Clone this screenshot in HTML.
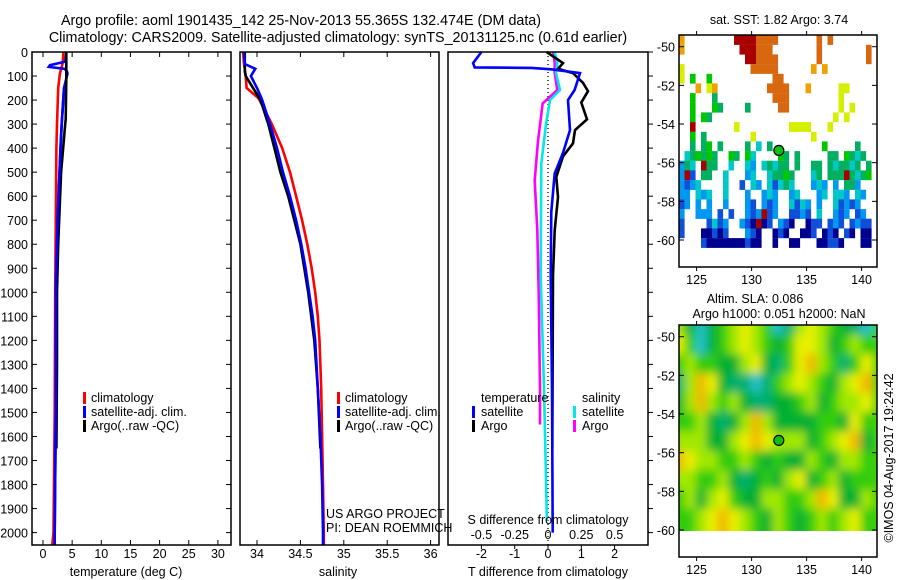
<!DOCTYPE html>
<html><head><meta charset="utf-8"><style>
html,body{margin:0;padding:0;background:#fff;}
svg{display:block;font-family:"Liberation Sans",sans-serif;}
text{font-size:12.5px;fill:#000;}
.ttl{font-size:14.3px;}
</style></head><body>
<svg id="fig" width="900" height="580" viewBox="0 0 900 580" xmlns="http://www.w3.org/2000/svg">
<defs>
<clipPath id="clipTop"><rect x="679" y="35" width="198" height="232"/></clipPath>
<clipPath id="clipBot"><rect x="679" y="325" width="198" height="206"/></clipPath>
<filter id="blur" x="-10%" y="-10%" width="120%" height="120%"><feGaussianBlur stdDeviation="4.5"/></filter>
</defs>
<text class="ttl" x="301" y="25" text-anchor="middle">Argo profile: aoml 1901435_142 25-Nov-2013 55.365S 132.474E (DM data)</text>
<text class="ttl" x="338" y="42" text-anchor="middle">Climatology: CARS2009. Satellite-adjusted climatology: synTS_20131125.nc (0.61d earlier)</text>
<g id="g"></g>
</svg>
<script>
// ---- data ----
const tempDepth=[0,40,55,62,70,80,90,150,300,400,700,1000,1500,2000,2050];
const tempClim=[3.5,3.4,3.3,3.2,3.1,3.0,2.9,2.6,2.4,2.3,2.2,2.1,2.0,1.8,1.6];
const tempSat=[4.0,3.8,1.2,1.0,3.7,4.1,4.2,3.6,3.2,3.0,2.5,2.2,2.2,2.0,2.0];
const argoTDepth=[0,100,280,300,500,800,1000,1300,1650];
const tempArgo=[4.0,4.0,3.9,3.8,3.1,2.6,2.4,2.4,2.3];
const salDepth=[0,50,70,100,150,190,200,300,400,500,600,700,800,900,1000,1100,1200,1400,1600,1800,2000,2050];
const salClim=[33.84,33.85,33.86,33.87,33.88,34.01,34.03,34.17,34.29,34.38,34.45,34.52,34.58,34.63,34.67,34.70,34.72,34.74,34.75,34.76,34.77,34.77];
const salSat=[33.85,33.86,33.98,33.93,34.0,34.05,34.06,34.15,34.23,34.30,34.38,34.45,34.51,34.56,34.60,34.64,34.67,34.70,34.73,34.75,34.76,34.76];
const argoSDepth=[0,80,100,200,300,400,500,600,700,800,1000,1200,1400,1650];
const salArgo=[33.86,33.86,33.87,34.04,34.13,34.20,34.27,34.36,34.43,34.50,34.59,34.66,34.70,34.73];
const dtDepth=[0,46,64,66,72,88,158,200,325,420,505,665,930,1400,2000];
const dtSat=[-2.0,-2.25,-2.2,-0.5,0.1,0.96,0.8,0.6,0.66,0.45,0.2,0.1,0.08,0.12,0.14];
const dtArgoDepth=[0,46,70,88,128,163,210,280,325,380,435,520,604,742,930,1650];
const dtArgo=[-0.04,0.45,0.3,0.75,1.05,1.2,1.0,1.17,0.81,0.75,0.45,0.25,0.3,0.2,0.15,0.13];
const dsDepth=[0,46,88,158,200,300,465,930,1400,1950];
const dsSat=[0.05,0.07,0.06,0.09,0.015,-0.015,-0.05,-0.055,-0.03,-0.008];
const dsArgoDepth=[0,46,88,158,214,370,535,742,1000,1400,1550];
const dsArgo=[0.04,0.05,0.05,0.07,-0.04,-0.075,-0.1,-0.08,-0.07,-0.06,-0.06];
const depthTicks=[0,100,200,300,400,500,600,700,800,900,1000,1100,1200,1300,1400,1500,1600,1700,1800,1900,2000];
const tempTicks=[0,5,10,15,20,25,30];
const salTicks=[34,34.5,35,35.5,36];
const dtTicks=[-2,-1,0,1,2];
const dsTicks=[-0.5,-0.25,0,0.25,0.5];
const latTicks=[-50,-52,-54,-56,-58,-60];
const lonTicks=[125,130,135,140];
const argoLon=132.474, argoLat=-55.365;
const sstRows=[
"y.........rrrroooo.......o.o.......",
"y..........rrrooo........o........o",
"............rroooo.......o........o",
"Y............ooooo......y.y........",
"Y.g..g...........oo...............",
"...y.Yy.........oooo...y.....YY...",
"..g...G..........ooo.........Y....",
"..g...gG....G.....oo.........Y.Y..",
"..g.gG......................Y.Y...",
"..r.......Y.........YYYY...Y......",
"..g.G........Y..........Y.........",
"..G.Gg.G....G.c.G.........g.....G.",
".cGgGgG..gG.gc....gG.G.....GG.gGcG.",
"bGc.rGG..c..cb.cGcGG.G..GG.GcGGcG.G",
"brB.GG..c...bc..cGGgG...cG.GGGrGcGg",
"bBbc....c..B.cb.cBcGc...bcb.b.GGb..",
"bb.cbc..c...b..bcb..bc...bc.ccb.cb.",
"Bb.b.b..b...bB.bBb..cBcb.b..cBbBb..",
"b..bbb.B.B..bBbrBb..BBbB.c..bBb.Bb.",
"B....BcBb..bBnrnB.bBn..nBB.BbB.BbBB",
"B...nnBnB...bBn..nBn..nnB.nBn.Bn.nn",
"....BnnnnnnnBnn..n..nn...nnBBn...nn"];
const slaGrid=[
[4,2,0,2,3,4,5,4,3,0,1,4,5,4,3,2,1,0],
[5,3,0,2,3,4,5,4,3,2,3,5,5,4,2,3,4,3],
[3,4,3,3,2,2,4,5,2,1,3,5,6,4,3,1,3,5],
[1,4,6,5,2,1,1,0,1,3,4,5,4,3,2,4,5,6],
[2,4,6,4,3,4,2,1,1,2,2,3,4,2,3,4,4,5],
[3,3,4,2,1,2,4,6,4,2,2,2,2,3,3,2,5,3],
[4,4,4,2,2,4,5,6,5,4,4,4,2,3,4,5,6,2],
[6,5,4,4,3,3,4,3,2,3,2,2,4,3,2,4,4,3],
[4,4,3,3,4,2,1,2,3,2,4,5,2,3,4,2,3,3],
[3,4,2,4,5,3,2,2,4,4,3,3,4,6,5,2,2,4],
[3,3,4,5,6,5,4,3,2,4,3,2,3,4,3,4,5,3],
[3,3,4,5,6,5,4,3,2,4,3,2,3,4,3,4,5,3]];
const sstColors={y:"#f0a000",r:"#a80000",o:"#d86810",Y:"#d4f000",g:"#00c800",G:"#00b060",c:"#00c8c8",b:"#0098f0",B:"#1050d8",n:"#000090"};
const slaColors=["#20c0c8","#00b070","#00b030","#30cc10","#a0e800","#e8f000","#f0b800"];

// ---- helpers ----
const NS="http://www.w3.org/2000/svg";
const GG=document.getElementById('g');
function mk(tag,attrs,parent){const e=document.createElementNS(NS,tag);for(const k in attrs)e.setAttribute(k,attrs[k]);(parent||GG).appendChild(e);return e;}
const yD=d=>52+d*0.2403;
const xT=t=>43+t*5.83;
const xS=s=>257+(s-34)*86.8;
const xDT=t=>548+t*33.3;
const xDS=s=>548+s*133.2;
const mxL=l=>679+(l-123.4)*11.0;
const myL=l=>46.7+(-50-l)*19.33;
const myL2=l=>336.7+(-50-l)*19.33;

function line(xs,ds,fx,color,name){
  const pts=xs.map((v,i)=>fx(v).toFixed(1)+","+yD(ds[i]).toFixed(1)).join(" ");
  const p=mk('polyline',{points:pts,fill:"none",stroke:color,"stroke-width":2.6,"stroke-linejoin":"miter"});
  
  
}
function txt(x,y,s,anchor,name){const t=mk('text',{x:x,y:y,"text-anchor":anchor||"start"});t.textContent=s;
  
  return t;}
function frame(x,y,w,h,name){const r=mk('rect',{x:x,y:y,width:w,height:h,fill:"none",stroke:"#000","stroke-width":1.5});
  
  }
function seg(x1,y1,x2,y2,name,extra){const l=mk('line',Object.assign({x1:x1,y1:y1,x2:x2,y2:y2,stroke:"#000","stroke-width":1},extra||{}));
  
  }
function legBar(x,y,color,name){const r=mk('rect',{x:x,y:y,width:3,height:12,fill:color});
  
  }

// ---- panel 1: temperature ----
const P1={l:32,r:231}, TOP=52, BOT=545;
depthTicks.forEach(d=>{txt(28,yD(d)+5,String(d),"end","depth-tick-label");
  seg(P1.l,yD(d),P1.l+5,yD(d),"depth-tick");seg(P1.r-5,yD(d),P1.r,yD(d),"depth-tick");});
tempTicks.forEach(t=>{seg(xT(t),TOP,xT(t),TOP+5,"temp-tick");seg(xT(t),BOT-5,xT(t),BOT,"temp-tick");
  txt(xT(t),558,String(t),"middle","temp-tick-label");});
line(tempClim,tempDepth,xT,"#ff0000","temp-climatology-line");
line(tempSat,tempDepth,xT,"#0000ff","temp-satellite-line");
line(tempArgo,argoTDepth,xT,"#000000","temp-argo-line");
line(tempSat.slice(7),tempDepth.slice(7),xT,"#0000ff","temp-satellite-line-top");
frame(P1.l,TOP,P1.r-P1.l,BOT-TOP,"temperature-panel-frame");
txt(126,576,"temperature (deg C)","middle","temperature-axis-title");
legBar(83,392,"#ff0000","legend-climatology-swatch");txt(91,402,"climatology","start","legend-climatology");
legBar(83,406,"#0000ff","legend-satellite-swatch");txt(91,416,"satellite-adj. clim.","start","legend-satellite");
legBar(83,420,"#000000","legend-argo-swatch");txt(91,430,"Argo(..raw -QC)","start","legend-argo");

// ---- panel 2: salinity ----
const P2={l:240,r:439};
salTicks.forEach(s=>{seg(xS(s),TOP,xS(s),TOP+5,"sal-tick");seg(xS(s),BOT-5,xS(s),BOT,"sal-tick");
  txt(xS(s),558,String(s),"middle","sal-tick-label");});
line(salClim,salDepth,xS,"#ff0000","sal-climatology-line");
line(salArgo,argoSDepth,xS,"#000000","sal-argo-line");
line(salSat,salDepth,xS,"#0000ff","sal-satellite-line");
frame(P2.l,TOP,P2.r-P2.l,BOT-TOP,"salinity-panel-frame");
txt(338,576,"salinity","middle","salinity-axis-title");
legBar(337,392,"#ff0000","legend2-climatology-swatch");txt(345,402,"climatology","start","legend2-climatology");
legBar(337,406,"#0000ff","legend2-satellite-swatch");txt(345,416,"satellite-adj. clim.","start","legend2-satellite");
legBar(337,420,"#000000","legend2-argo-swatch");txt(345,430,"Argo(..raw -QC)","start","legend2-argo");
txt(326,518,"US ARGO PROJECT","start","project-credit");
txt(326,532,"PI: DEAN ROEMMICH","start","pi-credit");

// ---- panel 3: differences ----
const P3={l:448,r:648};
depthTicks.forEach(d=>{seg(P3.r,yD(d),P3.r+5,yD(d),"diff-depth-tick");});
seg(548,TOP,548,BOT,"zero-line",{"stroke-dasharray":"1,3","stroke-width":1.3});
dtTicks.forEach(t=>{seg(xDT(t),BOT,xDT(t),BOT+4,"dt-tick");txt(xDT(t),558,String(t),"middle","dt-tick-label");});
dsTicks.forEach(s=>txt(xDS(s),539,String(s),"middle","ds-tick-label"));
line(dsArgo,dsArgoDepth,xDS,"#ff00ff","ds-argo-line");
line(dsSat,dsDepth,xDS,"#00e8e8","ds-satellite-line");
line(dtArgo,dtArgoDepth,xDT,"#000000","dt-argo-line");
line(dtSat,dtDepth,xDT,"#0000ff","dt-satellite-line");
frame(P3.l,TOP,P3.r-P3.l,BOT-TOP,"difference-panel-frame");
txt(548,524,"S difference from climatology","middle","s-diff-axis-title");
txt(548,576,"T difference from climatology","middle","t-diff-axis-title");
txt(481,402,"temperature","start","legend3-temperature-header");
legBar(472,406,"#0000ff","legend3-t-satellite-swatch");txt(481,416,"satellite","start","legend3-t-satellite");
legBar(472,420,"#000000","legend3-t-argo-swatch");txt(481,430,"Argo","start","legend3-t-argo");
txt(582,402,"salinity","start","legend3-salinity-header");
legBar(573,406,"#00e8e8","legend3-s-satellite-swatch");txt(582,416,"satellite","start","legend3-s-satellite");
legBar(573,420,"#ff00ff","legend3-s-argo-swatch");txt(582,430,"Argo","start","legend3-s-argo");

// ---- top map: SST ----
const topG=mk('g',{"clip-path":"url(#clipTop)"});


sstRows.forEach((row,r)=>{for(let c=0;c<row.length;c++){const ch=row[c];if(ch==='.')continue;
  const lon=123.4+0.5*c, lat=-49.4-0.5*r;
  const cell=mk('rect',{x:mxL(lon).toFixed(1),y:myL(lat).toFixed(1),width:5.6,height:9.8,fill:sstColors[ch]},topG);
  
  }});
frame(679,35,198,232,"sst-map-frame");
txt(779,24,"sat. SST: 1.82 Argo: 3.74","middle","sst-map-title");
latTicks.forEach(l=>{txt(675,myL(l)+5,String(l),"end","sst-lat-label");
  seg(679,myL(l),684,myL(l),"sst-lat-tick");seg(872,myL(l),877,myL(l),"sst-lat-tick");});
lonTicks.forEach(l=>{txt(mxL(l),284,String(l),"middle","sst-lon-label");
  seg(mxL(l),35,mxL(l),31,"sst-lon-tick");seg(mxL(l),267,mxL(l),271,"sst-lon-tick");});
const m1=mk('circle',{cx:mxL(argoLon),cy:myL(argoLat),r:5,fill:"#10c010",stroke:"#000","stroke-width":1.2});



// ---- bottom map: SLA ----
const botC=mk('g',{"clip-path":"url(#clipBot)"});


const botG=mk('g',{filter:"url(#blur)"},botC);
const ext=mk('rect',{x:660,y:300,width:240,height:260,fill:"#40d010"},botG);


slaGrid.forEach((row,r)=>row.forEach((v,c)=>{
  const lon=123.4+c-0.5, lat=-49.4-r+0.5;
  const cell=mk('rect',{x:mxL(lon).toFixed(1),y:myL2(lat).toFixed(1),width:12,height:20,fill:slaColors[v]},botG);
  
  }));
frame(679,325,198,232,"sla-map-frame");
txt(755,303,"Altim. SLA: 0.086","middle","sla-map-title");
txt(779,318,"Argo h1000: 0.051 h2000: NaN","middle","sla-map-subtitle");
latTicks.forEach(l=>{txt(675,myL2(l)+5,String(l),"end","sla-lat-label");
  seg(679,myL2(l),684,myL2(l),"sla-lat-tick");seg(872,myL2(l),877,myL2(l),"sla-lat-tick");});
lonTicks.forEach(l=>{txt(mxL(l),574,String(l),"middle","sla-lon-label");
  seg(mxL(l),325,mxL(l),321,"sla-lon-tick");seg(mxL(l),557,mxL(l),561,"sla-lon-tick");});
const m2=mk('circle',{cx:mxL(argoLon),cy:myL2(argoLat),r:5,fill:"#10c010",stroke:"#000","stroke-width":1.2});


const ts=txt(0,0,"©IMOS 04-Aug-2017 19:24:42","middle","timestamp");
ts.setAttribute('transform','translate(893,458) rotate(-90)');
</script>
</body></html>
